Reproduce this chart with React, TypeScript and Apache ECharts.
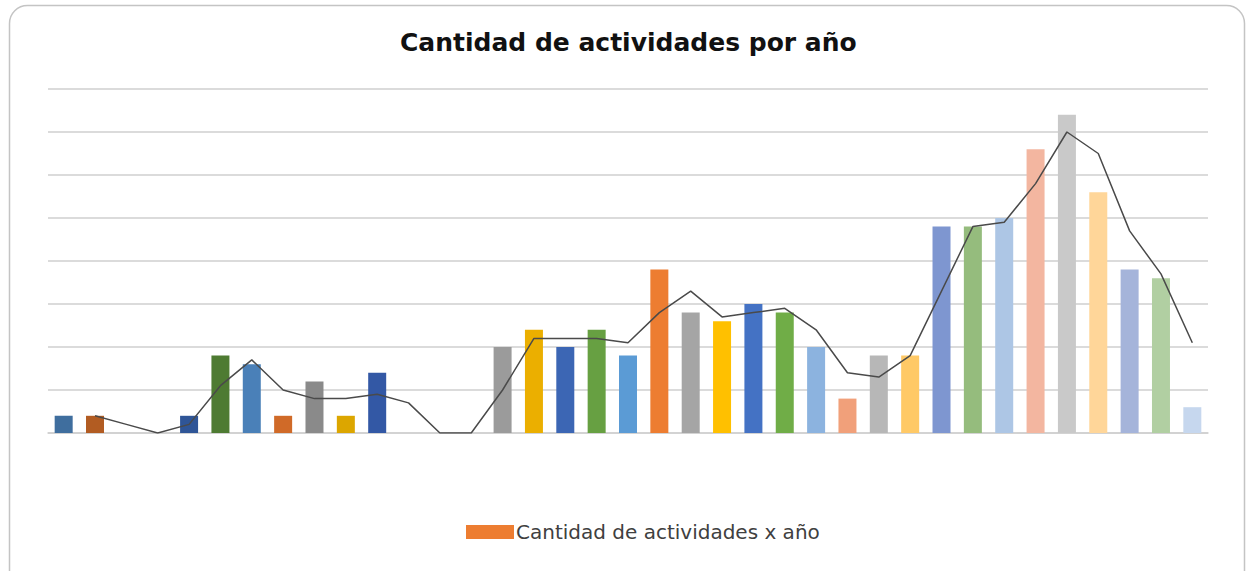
import React, { useEffect, useRef } from "react";
import * as echarts from "echarts";

const categories: string[] = [
  "1982", "1983", "1984", "1985", "1986", "1987", "1988", "1989", "1990", "1991",
  "1992", "1993", "1994", "1995", "1996", "1997", "1998", "1999", "2000", "2001",
  "2002", "2003", "2004", "2005", "2006", "2007", "2008", "2009", "2010", "2011",
  "2012", "2013", "2014", "2015", "2016", "2017", "2018",
];

const activities: number[] = [
  2, 2, 0, 0, 2, 9, 8, 2, 6, 2, 7, 0, 0, 0, 10, 12, 10, 12, 9, 19, 14, 13, 15, 14, 10,
  4, 9, 9, 24, 24, 25, 33, 37, 28, 19, 18, 3,
];

const trendValues: (number | null)[] = [
  null, 2, 1, 0, 1, 5.5, 8.5, 5, 4, 4, 4.5, 3.5, 0, 0, 5, 11, 11, 11, 10.5, 14, 16.5,
  13.5, 14, 14.5, 12, 7, 6.5, 9, 16.5, 24, 24.5, 29, 35, 32.5, 23.5, 18.5, 10.5,
];

const barColors: string[] = [
  "#3F6E9E", "#B25C22", "#7C7C7C", "#BF9000", "#2F5597", "#4E7B32",
  "#4A80B8", "#D06A28", "#8A8A8A", "#DCA600", "#3358A5", "#5E9439",
  "#5290C8", "#E07430", "#9B9B9B", "#EBAF00", "#3C66B4", "#67A042",
  "#5B9BD5", "#ED7D31", "#A5A5A5", "#FFC000", "#4472C4", "#70AD47",
  "#8CB3DF", "#F1A07A", "#B7B7B7", "#FFC966", "#7E96D0", "#95BC7D",
  "#ADC6E5", "#F3B6A0", "#C9C9C9", "#FFD699", "#A5B4DA", "#B1CFA2",
  "#C6D7EE",
];

const seriesName = "Cantidad de actividades x año";

export default function App() {
  const ref = useRef<HTMLDivElement>(null);
  useEffect(() => {
    if (!ref.current) return;
    const chart = echarts.init(ref.current, undefined, { renderer: "svg" });
    chart.setOption({
      animation: false,
      backgroundColor: "#ffffff",
      title: {
        text: "Cantidad de actividades por año",
        left: 395,
        top: 25,
        textStyle: {
          fontFamily: "DejaVu Sans, sans-serif",
          fontWeight: "bold",
          fontSize: 25,
          color: "#111111",
        },
      },
      graphic: [
        {
          type: "rect",
          shape: { x: 9.5, y: 5.5, width: 1235, height: 590, r: 18 },
          style: { fill: "none", stroke: "#c4c4c4", lineWidth: 1.5 },
          z: -1,
        },
      ],
      legend: {
        data: [seriesName],
        left: 461,
        top: 517,
        icon: "rect",
        itemWidth: 48,
        itemHeight: 14,
        itemGap: 10,
        textStyle: {
          fontFamily: "DejaVu Sans, sans-serif",
          fontSize: 20,
          color: "#404040",
          padding: [0, 0, 0, -3],
        },
      },
      grid: { left: 48, right: 40, top: 89, bottom: 138 },
      xAxis: {
        type: "category",
        data: categories,
        axisLine: { show: true, lineStyle: { color: "#d0d0d0", width: 1.5 } },
        axisTick: { show: false },
        axisLabel: { show: false },
      },
      yAxis: {
        type: "value",
        min: 0,
        max: 40,
        interval: 5,
        axisLine: { show: false },
        axisTick: { show: false },
        axisLabel: { show: false },
        splitLine: { lineStyle: { color: "#cfcfcf", width: 1.5 } },
      },
      series: [
        {
          name: seriesName,
          type: "bar",
          barWidth: 18,
          itemStyle: { color: "#ED7D31" },
          data: activities.map((v, i) => ({ value: v, itemStyle: { color: barColors[i] } })),
        },
        {
          name: "Media móvil",
          type: "line",
          data: trendValues,
          symbol: "none",
          connectNulls: false,
          lineStyle: { color: "#4a4a4a", width: 1.5 },
          z: 5,
        },
      ],
    });
    return () => chart.dispose();
  }, []);
  return (
    <div style={{ position: "absolute", left: 0, top: 0, width: 1248, height: 571, overflow: "hidden" }}>
      <div ref={ref} style={{ width: 1248, height: 571 }} />
    </div>
  );
}
